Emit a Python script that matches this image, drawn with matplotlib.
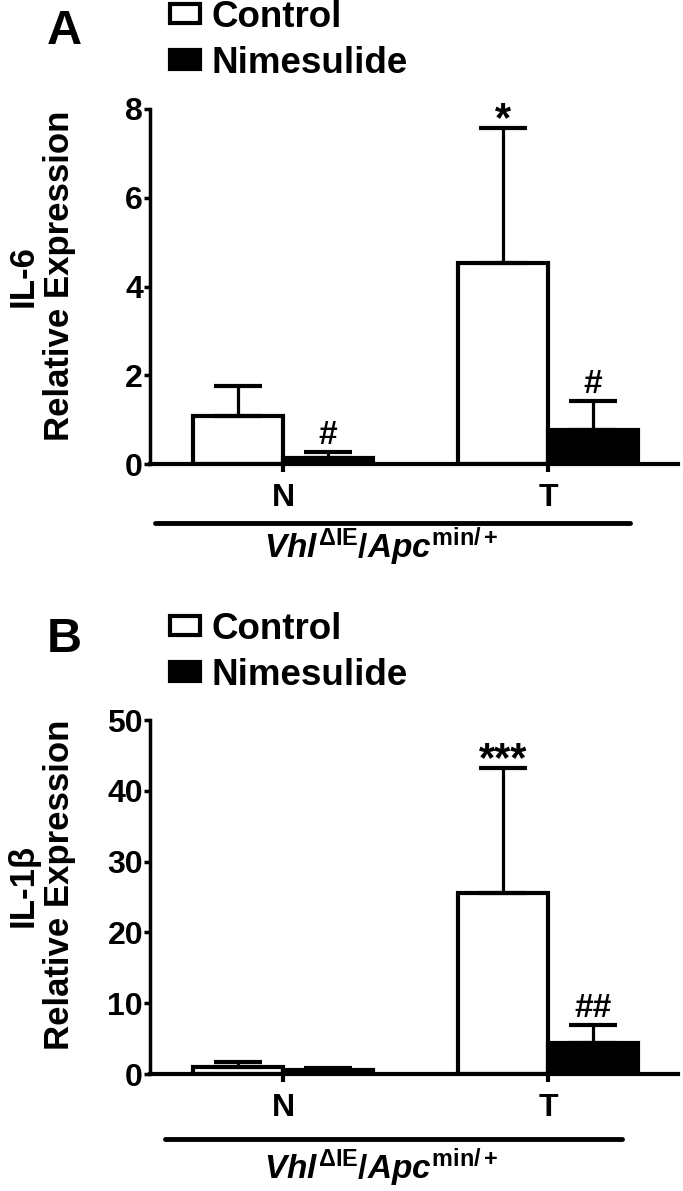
import numpy as np
import matplotlib
matplotlib.use("Agg")
import matplotlib.pyplot as plt
from matplotlib.patches import Patch
from matplotlib.lines import Line2D

plt.rcParams["font.family"] = ["Liberation Sans", "DejaVu Sans"]
plt.rcParams["font.weight"] = "bold"
plt.rcParams["mathtext.fontset"] = "custom"
plt.rcParams["mathtext.it"] = "Liberation Sans:italic:bold"
plt.rcParams["mathtext.rm"] = "Liberation Sans:bold"
plt.rcParams["mathtext.bf"] = "Liberation Sans:bold"

groups = ["N", "T"]
series = ["Control", "Nimesulide"]

il6_control = [1.08, 4.54]
il6_control_err = [0.67, 3.03]
il6_nime = [0.13, 0.76]
il6_nime_err = [0.14, 0.66]
il6_control_marks = ["", "*"]
il6_nime_marks = ["#", "#"]

il1b_control = [1.0, 25.5]
il1b_control_err = [0.74, 17.7]
il1b_nime = [0.6, 4.4]
il1b_nime_err = [0.25, 2.5]
il1b_control_marks = ["", "***"]
il1b_nime_marks = ["", "##"]

W, H = 683, 1191
fig = plt.figure(figsize=(W / 100, H / 100), dpi=100)


def fx(px):
    return px / W


def fy(py):
    return 1 - py / H


def panel(top, bottom, letter, ylabel, ymax, yticks, ctrl, ctrl_err, nime, nime_err,
          cmarks, nmarks, ylab_y, legend_y, letter_y, line_y, line_x, vhl_y):
    ax = fig.add_axes([fx(150), fy(bottom), fx(678) - fx(150), fy(top) - fy(bottom)])
    x = np.arange(len(groups))
    w = 0.34
    ax.bar(x - w / 2, ctrl, w, facecolor="white", edgecolor="black", lw=3, zorder=2)
    ax.bar(x + w / 2, nime, w, facecolor="black", edgecolor="black", lw=3, zorder=2)
    for off, vals, errs in [(-w / 2, ctrl, ctrl_err), (w / 2, nime, nime_err)]:
        ax.errorbar(x + off, vals, yerr=[np.zeros(len(vals)), errs], fmt="none",
                    ecolor="black", elinewidth=2.3, capsize=17, capthick=3, zorder=3)
    for off, vals, errs, marks in [(-w / 2, ctrl, ctrl_err, cmarks), (w / 2, nime, nime_err, nmarks)]:
        for xi, v, e, m in zip(x + off, vals, errs, marks):
            if not m:
                continue
            if "*" in m:
                dy, fs = -2, 30
            else:
                dy, fs = 6, 24
            ax.annotate(m, (xi, v + e), xytext=(0, dy), textcoords="offset points",
                        ha="center", va="baseline", fontsize=fs, fontweight="bold")
    ax.set_xlim(-0.502, 1.49)
    ax.set_ylim(0, ymax)
    ax.set_yticks(yticks)
    ax.set_xticks(x)
    ax.set_xticklabels(groups)
    for s in ["top", "right"]:
        ax.spines[s].set_visible(False)
    ax.spines["left"].set_linewidth(2.5)
    ax.spines["bottom"].set_linewidth(3)
    ax.tick_params(axis="y", length=4, width=2.5, pad=1, labelsize=23)
    ax.tick_params(axis="x", direction="out", length=6, width=3, pad=8, labelsize=23)
    fig.text(fx(41), fy(ylab_y), ylabel, rotation=90, ha="center", va="center",
             fontsize=25, multialignment="center", linespacing=1.12)
    fig.text(fx(47), fy(letter_y), letter, ha="left", va="center", fontsize=35)
    handles = [Patch(facecolor="white", edgecolor="black", lw=3),
               Patch(facecolor="black", edgecolor="black", lw=3)]
    fig.legend(handles, series, loc="upper left", bbox_to_anchor=(fx(170), fy(legend_y)),
               frameon=False, fontsize=26.5, handlelength=0.82, handleheight=0.42,
               handletextpad=0.3, labelspacing=0.3, borderpad=0, borderaxespad=0)
    fig.add_artist(Line2D([fx(line_x[0]), fx(line_x[1])], [fy(line_y)] * 2,
                          transform=fig.transFigure,
                          color="black", lw=3.5, solid_capstyle="round"))
    fig.text(fx(381), fy(vhl_y), r"$\mathit{Vhl}^{\Delta\mathrm{IE}}\mathit{/Apc}^{\mathrm{min/+}}$",
             ha="center", va="center", fontsize=24)
    return ax


panel(109, 464, "A", "IL-6\nRelative Expression", 8, [0, 2, 4, 6, 8],
      il6_control, il6_control_err, il6_nime, il6_nime_err,
      il6_control_marks, il6_nime_marks, 276, 0, 31, 523, (155, 630), 547)
panel(720, 1074, "B", "IL-1β\nRelative Expression", 50, [0, 10, 20, 30, 40, 50],
      il1b_control, il1b_control_err, il1b_nime, il1b_nime_err,
      il1b_control_marks, il1b_nime_marks, 885, 612, 640, 1139, (165, 622), 1168)

fig.savefig("out.png", dpi=100)
